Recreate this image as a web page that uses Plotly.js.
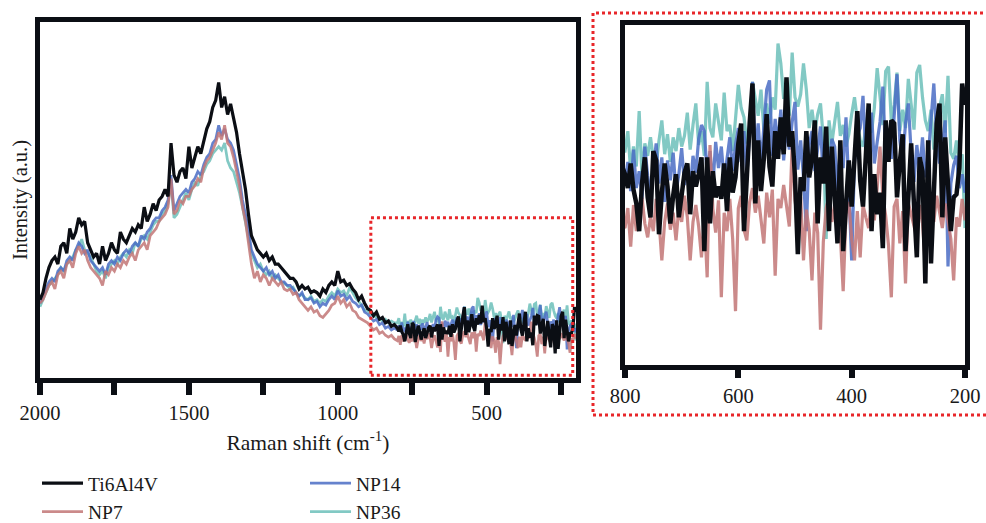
<!DOCTYPE html>
<html>
<head>
<meta charset="utf-8">
<script src="https://cdn.plot.ly/plotly-3.0.1.min.js"></script>
<style>html,body{margin:0;padding:0;background:#fff;overflow:hidden;}#chart{width:986px;height:545px;}</style>
</head>
<body>
<div id="chart"></div>
<script>
// Raman shift grid (cm^-1)
const wavenumbersHigh = [
2000,1990,1980,1970,1960,1950,1940,1930,1920,1910,
1900,1890,1880,1870,1860,1850,1840,1830,1820,1810,
1800,1790,1780,1770,1760,1750,1740,1730,1720,1710,
1700,1690,1680,1670,1660,1650,1640,1630,1620,1610,
1600,1590,1580,1570,1560,1550,1540,1530,1520,1510,
1500,1490,1480,1470,1460,1450,1440,1430,1420,1410,
1400,1390,1380,1370,1360,1350,1340,1330,1320,1310,
1300,1290,1280,1270,1260,1250,1240,1230,1220,1210,
1200,1190,1180,1170,1160,1150,1140,1130,1120,1110,
1100,1090,1080,1070,1060,1050,1040,1030,1020,1010,
1000,990,980,970,960,950,940,930,920,910,
900,890,880,870,860,850,840,830,820,810];
const wavenumbersLow = [
800,795,790,785,780,775,770,765,760,755,
750,745,740,735,730,725,720,715,710,705,
700,695,690,685,680,675,670,665,660,655,
650,645,640,635,630,625,620,615,610,605,
600,595,590,585,580,575,570,565,560,555,
550,545,540,535,530,525,520,515,510,505,
500,495,490,485,480,475,470,465,460,455,
450,445,440,435,430,425,420,415,410,405,
400,395,390,385,380,375,370,365,360,355,
350,345,340,335,330,325,320,315,310,305,
300,295,290,285,280,275,270,265,260,255,
250,245,240,235,230,225,220,215,210,205,
200];

// Ti6Al4V
const ti6al4vHigh = [
22,24,28,31,33,34,32,37,38,35,
42,39,41,45,43,44,38,36,34,35,
32,37,33,35,38,36,35,41,39,38,
40,42,41,43,42,48,44,46,49,47,
50,51,53,51,66,57,55,58,59,56,
65,59,62,65,63,67,70,72,76,78,
83,76,79,74,77,73,69,63,58,53,
46,40,38,36,35,34,35,33,34,32,
32,31,30,29,28,28,27,25,26,25,
25.5,24,24.5,24,23,25,24,26,27,26,
30,27,27.5,26,26.5,25,24,22,23,21,
19.5,19,17.5,18.5,16.5,17,15.5,16,14.5,15];
const ti6al4vLow = [
14.0,13.1,14.7,13.0,12.1,10.3,13.4,15.1,12.5,11.2,
15.5,14.9,10.1,12.8,14.7,13.2,10.8,12.6,14.0,11.2,
12.9,14.1,14.7,11.4,14.2,13.2,14.0,15.1,9.0,15.1,
10.8,14.2,12.5,13.2,12.4,14.7,11.6,15.1,12.8,13.8,
16.0,17.3,10.3,14.5,17.3,19.9,12.1,16.2,12.9,15.0,
17.9,14.5,13.2,16.8,15.0,17.7,15.3,20.3,15.8,16.8,
13.8,8.8,13.8,12.9,16.8,13.8,15.0,17.5,10.8,15.1,
13.4,17.1,10.3,15.8,12.6,9.5,16.2,9.0,12.0,14.9,
11.9,15.0,18.1,13.6,11.9,15.2,18.6,10.3,14.0,11.4,
12.8,9.2,17.5,14.8,17.5,17.3,12.5,14.8,16.6,9.0,
12.6,16.0,12.0,8.6,15.1,14.2,6.9,16.2,8.2,12.8,
17.3,18.6,11.2,16.4,13.0,10.3,12.5,12.7,14.4,19.9,
18.5];

// NP7
const np7High = [
21,22,24,26,27,25,29,30,28,32,
33,31,35,37,35,36,33,31,30,29,
28,26,30,29,31,30,32,31,33,32,
34,35,33,36,37,38,36,40,41,42,
44,45,46,48,56,46,47,50,49,51,
51,53,54,56,55,59,61,62,64,66,
69,67,71,66,65,62,58,54,48,44,
38,32,28,30,27,29,28,26,28,27,
26,27,25,24.5,25,23.5,24,22,21,20,
19,20,18.5,19,17.5,17,18,19,20.5,21,
23,21,22,20,21,19,18.5,17,16.5,16,
15.5,14.5,13.5,14,12.5,13,12,11.5,12,11];
const np7Low = [
10.5,11.8,9.3,12.0,10.3,11.6,12.5,10.8,9.9,11.2,
10.3,12.4,11.0,8.4,10.9,12.1,10.4,11.5,9.7,11.8,
10.9,12.6,11.2,8.4,10.9,12.0,10.6,8.6,11.3,7.3,
15.9,11.8,10.2,12.3,6.0,11.5,10.3,12.4,9.8,5.1,
11.8,12.6,10.4,9.7,12.2,13.1,11.5,12.6,10.9,9.5,
12.8,11.2,13.0,7.4,12.4,11.8,13.3,12.1,10.6,16.0,
12.3,11.0,12.5,8.4,11.7,10.4,7.1,11.5,10.2,3.9,
9.6,11.8,12.6,10.9,12.0,11.3,10.1,6.4,11.4,12.2,
9.8,8.4,11.6,8.6,12.0,11.2,10.5,12.3,11.0,13.1,
15.8,12.5,11.3,9.4,6.0,11.9,12.4,9.5,11.6,6.9,
12.1,11.4,10.7,9.9,12.0,10.8,8.2,11.5,12.3,10.9,
12.6,11.4,10.5,12.1,11.0,9.8,7.1,11.2,10.6,12.4,
11.0];

// NP14
const np14High = [
21,23,25,27,28,27,30,31,30,33,
34,33,36,38,37,35,36,33,32,31,
30,31,29,32,33,32,34,33,35,36,
35,37,38,37,40,39,41,42,44,45,
45,47,48,50,57,47,49,51,52,53,
52,55,56,58,57,60,62,63,66,67,
71,68,70,67,66,64,60,56,50,46,
42,36,34,32,31,30,31,29,30,28,
29,27,27,26,26,25,24,23,24,22,
22,22.5,21,21.5,20,21,20.5,22,23,22,
24.5,23,23.5,22,23,21.5,21,20,20.5,18.5,
18,17,16,16.5,15,15.5,14,14.5,13.5,14];
const np14Low = [
13.5,14.8,12.9,15.6,13.1,14.2,12.4,15.8,13.9,12.6,
14.5,16.0,13.4,15.1,12.2,14.9,13.6,15.4,12.8,14.0,
15.7,13.3,14.6,12.9,15.2,14.1,16.3,17.2,16.8,14.0,
15.5,13.2,16.1,14.4,15.8,13.6,15.0,16.4,14.2,15.9,
17.0,14.8,16.8,13.9,16.6,20.0,15.4,17.3,14.6,16.9,
19.5,20.1,15.2,17.6,16.0,18.2,14.9,17.1,15.6,17.4,
18.7,14.3,16.2,13.8,10.3,15.9,16.8,14.2,15.5,17.1,
13.7,15.8,14.1,16.3,15.8,13.0,15.7,14.4,17.7,12.6,
8.4,14.8,16.5,17.0,19.1,15.3,16.2,18.0,14.7,16.1,
17.4,19.7,15.2,16.6,15.0,17.8,20.5,16.2,14.8,17.3,
18.6,15.4,13.5,15.9,14.2,16.4,13.8,15.1,17.6,19.9,
16.3,14.7,15.8,17.5,8.0,13.4,14.6,15.2,13.1,14.0,
12.8];

// NP36
const np36High = [
20,22,24,26,27,28,29,31,30,32,
33,34,36,37,39,36,35,34,32,30,
29,30,28,31,32,33,32,34,35,34,
36,35,38,37,39,40,39,41,43,44,
44,46,47,49,55,45,46,48,50,52,
50,53,55,54,57,58,60,61,63,64,
65,64,66,61,59,58,55,52,48,44,
40,35,33,31,32,30,29,30,28,29,
28,27,26.5,26,25,25.5,24,23,23.5,22.5,
22,23,21.5,22,21,22,21.5,23,24,23,
25,24,24.5,23,25.5,24,22.5,21.5,20.5,19,
19,18,17.5,17,16.5,16,16.5,15.5,16,15.5];
const np36Low = [
15.5,16.8,14.2,15.8,14.5,18.1,13.8,16.0,15.2,16.4,
15.0,14.6,16.2,17.5,15.3,16.6,14.8,16.4,15.5,17.0,
15.8,16.5,18.0,15.6,17.2,18.6,15.9,16.8,15.2,20.0,
17.0,16.4,18.6,17.4,16.2,19.3,16.8,17.2,15.5,17.6,
19.8,18.3,17.7,16.0,17.2,20.0,18.9,17.8,19.5,16.9,
18.6,17.3,19.0,18.2,22.5,21.2,18.9,19.6,17.8,21.9,
19.0,18.4,19.2,21.2,19.5,17.0,18.2,16.8,17.9,18.6,
16.3,9.8,17.5,16.0,17.4,18.7,16.5,17.2,15.8,16.6,
17.9,19.0,17.5,16.2,15.8,17.0,18.2,16.7,18.3,20.9,
18.9,17.2,20.7,21.0,17.4,18.5,20.6,16.8,18.2,17.0,
20.2,18.4,16.9,20.6,21.1,19.0,17.5,16.8,18.2,15.6,
17.0,18.3,19.2,16.7,20.4,15.4,15.0,16.2,14.5,15.3,
10.5];

const mainTickVals = [2000,1500,1000,500];
const mainTickText = ['2000','1500','1000','500'];
const mainMinorTickVals = [1750,1250,750,250];
const insetTickVals = [800,600,400,200];
const insetTickText = ['800','600','400','200'];

const wn = wavenumbersHigh.concat(wavenumbersLow);
const seriesList = [
  {name:'NP36', y: np36High.concat(np36Low), color:'#6cbfba', op:0.85, legend:'legend2', rank:2},
  {name:'NP14', y: np14High.concat(np14Low), color:'#4a6cc4', op:0.85, legend:'legend2', rank:1},
  {name:'NP7', y: np7High.concat(np7Low), color:'#c27576', op:0.85, legend:'legend', rank:2},
  {name:'Ti6Al4V', y: ti6al4vHigh.concat(ti6al4vLow), color:'#0b0e14', op:1, legend:'legend', rank:1}
];

const traces = [];
seriesList.forEach(s => {
  traces.push({x: wn, y: s.y, xaxis:'x', yaxis:'y', type:'scatter', mode:'lines', name:s.name,
    line:{color:s.color, width: s.name==='Ti6Al4V'?3.2:2.7}, opacity:s.op, legend:s.legend, legendrank:s.rank});
});
seriesList.forEach(s => {
  traces.push({x: wn, y: s.y, xaxis:'x2', yaxis:'y2', type:'scatter', mode:'lines', name:s.name, showlegend:false,
    line:{color:s.color, width: s.name==='Ti6Al4V'?4.5:3.2}, opacity:s.op});
});

const axisCol = '#0b0e14';
const W = 986, H = 545;
const legendFont = {size:19.5, color:'#1a1a1a'};
const layout = {
  width: W, height: H,
  margin:{l:0,r:0,t:0,b:0},
  paper_bgcolor:'#ffffff', plot_bgcolor:'#ffffff',
  font:{family:'Liberation Serif, serif', size:20, color:'#1a1a1a'},
  showlegend:true,
  xaxis:{domain:[40/W, 576/W], anchor:'y', range:[2000,200], tickmode:'array', tickvals:mainTickVals, ticktext:mainTickText,
    ticks:'outside', ticklen:12, tickwidth:6, tickcolor:axisCol,
    minor:{tickmode:'array', tickvals:mainMinorTickVals, ticks:'outside', ticklen:12, tickwidth:6, tickcolor:axisCol, showgrid:false},
    showline:true, linewidth:5, linecolor:axisCol,
    mirror:true, showgrid:false, zeroline:false, tickfont:{size:20.5},
    title:{text:'Raman shift (cm<sup>-1</sup>)', standoff:14, font:{size:21.5}}},
  yaxis:{domain:[1-378/H, 1-22/H], anchor:'x', range:[0,100], showticklabels:false, ticks:'',
    showline:true, linewidth:5, linecolor:axisCol, mirror:true, showgrid:false, zeroline:false,
    title:{text:'Intensity (a.u.)', standoff:3, font:{size:20.5}}},
  xaxis2:{domain:[625/W, 965/W], anchor:'y2', range:[800,200], tickmode:'array', tickvals:insetTickVals, ticktext:insetTickText,
    ticks:'outside', ticklen:8, tickwidth:6, tickcolor:axisCol, showline:true, linewidth:5, linecolor:axisCol,
    mirror:true, showgrid:false, zeroline:false, tickfont:{size:20.5}},
  yaxis2:{domain:[1-365/H, 1-25/H], anchor:'x2', range:[1.6,23.7], showticklabels:false, ticks:'',
    showline:true, linewidth:5, linecolor:axisCol, mirror:true, showgrid:false, zeroline:false},
  legend:{x:37/W, y:1-464/H, xanchor:'left', yanchor:'top', orientation:'v', bgcolor:'rgba(0,0,0,0)',
    font:legendFont, tracegroupgap:0, itemwidth:41},
  legend2:{x:305/W, y:1-464/H, xanchor:'left', yanchor:'top', orientation:'v', bgcolor:'rgba(0,0,0,0)',
    font:legendFont, tracegroupgap:0, itemwidth:41},
  shapes:[
    {type:'rect', xref:'x', yref:'y', x0:889, x1:211, y0:0.8, y1:45,
      line:{color:'#e8262a', width:3, dash:'dot'}, fillcolor:'rgba(0,0,0,0)', layer:'above'},
    {type:'rect', xref:'paper', yref:'paper', x0:593/W, x1:992/W, y0:1-415/H, y1:1-13/H,
      line:{color:'#e8262a', width:3, dash:'dot'}, fillcolor:'rgba(0,0,0,0)', layer:'above'}
  ]
};

Plotly.newPlot('chart', traces, layout, {displayModeBar:false, staticPlot:true});
</script>
</body>
</html>
